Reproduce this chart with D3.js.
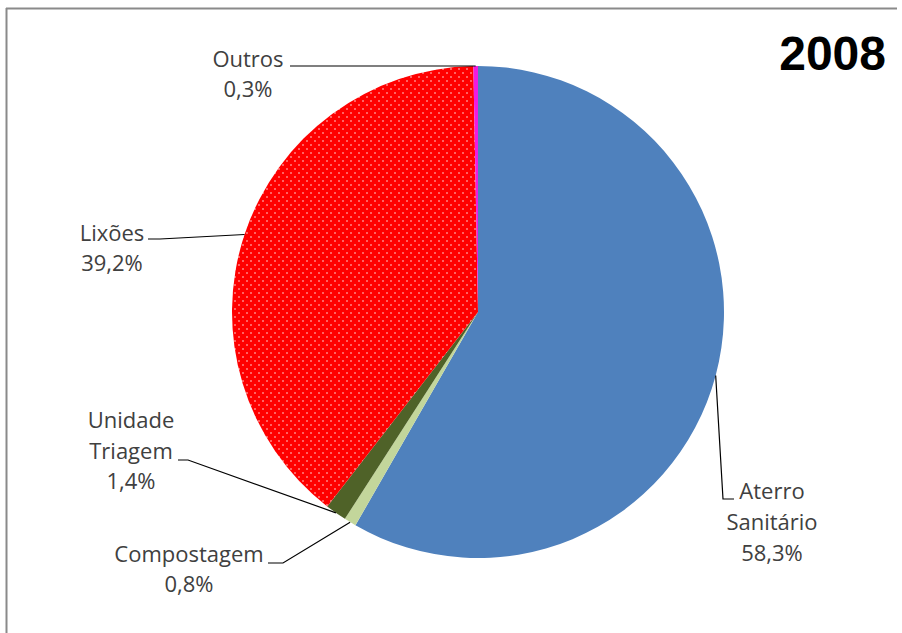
<!DOCTYPE html>
<html>
<head>
<meta charset="utf-8">
<script src="https://cdn.jsdelivr.net/npm/d3@7"></script>
<style>
  html, body { margin: 0; padding: 0; background: #fff; }
  svg { display: block; }
</style>
</head>
<body>
<svg id="chart"></svg>
<script>
/* pie 2008 — destinação final dos resíduos */

const CATEGORIES = ['Aterro Sanitário', 'Compostagem', 'Unidade Triagem', 'Lixões', 'Outros'];
const VALUES     = [58.3, 0.8, 1.4, 39.2, 0.3];
const LABEL_TXT  = ['58,3%', '0,8%', '1,4%', '39,2%', '0,3%'];
const COLORS     = ['#4F81BD', '#C3D69B', '#4F6228', 'url(#dots)', '#F01CE0'];

// label layout: text lines, centre x / first baseline y, and leader elbow
const LABELS = [
  { lines: ['Aterro', 'Sanitário'], x: 772, y: 499, dy: 31, lead: [[734, 499], [723, 499]] },
  { lines: ['Compostagem'],        x: 189, y: 562, dy: 30, lead: [[268, 563], [283, 563]] },
  { lines: ['Unidade', 'Triagem'], x: 131, y: 428, dy: 30.5, lead: [[178, 460], [188, 460]] },
  { lines: ['Lixões'],             x: 112, y: 241, dy: 29.5, lead: [[148, 239], [160, 239]] },
  { lines: ['Outros'],             x: 248, y: 67,  dy: 30, lead: [[290, 66], [300, 66]] },
];

const W = 902, H = 633;
const cx = 478, cy = 312, R = 246;
const FONT = '"Open Sans", "Liberation Sans", sans-serif';

const svg = d3.select('#chart')
  .attr('width', W)
  .attr('height', H)
  .attr('viewBox', `0 0 ${W} ${H}`);

/* ── dotted fill for Lixões ── */
const pat = svg.append('defs').append('pattern')
  .attr('id', 'dots')
  .attr('patternUnits', 'userSpaceOnUse')
  .attr('width', 8)
  .attr('height', 8);
pat.append('rect').attr('width', 8).attr('height', 8).attr('fill', '#FF0000');
pat.append('circle').attr('cx', 1).attr('cy', 1).attr('r', 0.8).attr('fill', '#FFE0E0');
pat.append('circle').attr('cx', 5).attr('cy', 5).attr('r', 0.8).attr('fill', '#FFE0E0');

/* ── frame (left + top edge) ── */
svg.append('line')
  .attr('x1', 6.5).attr('x2', 6.5).attr('y1', 8).attr('y2', H)
  .attr('stroke', '#8a8a8a').attr('stroke-width', 2);
svg.append('line')
  .attr('x1', 6).attr('x2', 897).attr('y1', 8.5).attr('y2', 8.5)
  .attr('stroke', '#8a8a8a').attr('stroke-width', 2);

/* ── pie ── */
const pie = d3.pie().sort(null).value(d => d);
const arcs = pie(VALUES);
const arc = d3.arc().innerRadius(0).outerRadius(R);
const edge = d3.arc().innerRadius(R).outerRadius(R);

const g = svg.append('g').attr('transform', `translate(${cx},${cy})`);

g.selectAll('.slice')
  .data(arcs)
  .join('path')
  .attr('class', 'slice')
  .attr('d', arc)
  .attr('fill', (d, i) => COLORS[i]);

/* ── leader lines ── */
arcs.forEach((a, i) => {
  const [ex, ey] = edge.centroid(a);
  const L = LABELS[i];
  const pts = [L.lead[0], L.lead[1], [cx + ex, cy + ey]];
  svg.append('path')
    .attr('d', d3.line()(pts))
    .attr('fill', 'none')
    .attr('stroke', '#000')
    .attr('stroke-width', 1.2);
});

/* ── labels ── */
LABELS.forEach((L, i) => {
  const t = svg.append('text')
    .attr('text-anchor', 'middle')
    .attr('font-family', FONT)
    .attr('font-size', 22)
    .attr('fill', '#404040');
  L.lines.concat([LABEL_TXT[i]]).forEach((s, j) => {
    t.append('tspan')
      .attr('x', L.x)
      .attr('y', L.y + j * L.dy)
      .text(s);
  });
});

/* ── year ── */
svg.append('text')
  .attr('x', 886)
  .attr('y', 70)
  .attr('text-anchor', 'end')
  .attr('font-family', '"Liberation Sans", Arial, sans-serif')
  .attr('font-weight', 700)
  .attr('font-size', 48)
  .attr('fill', '#000')
  .text('2008');
</script>
</body>
</html>
